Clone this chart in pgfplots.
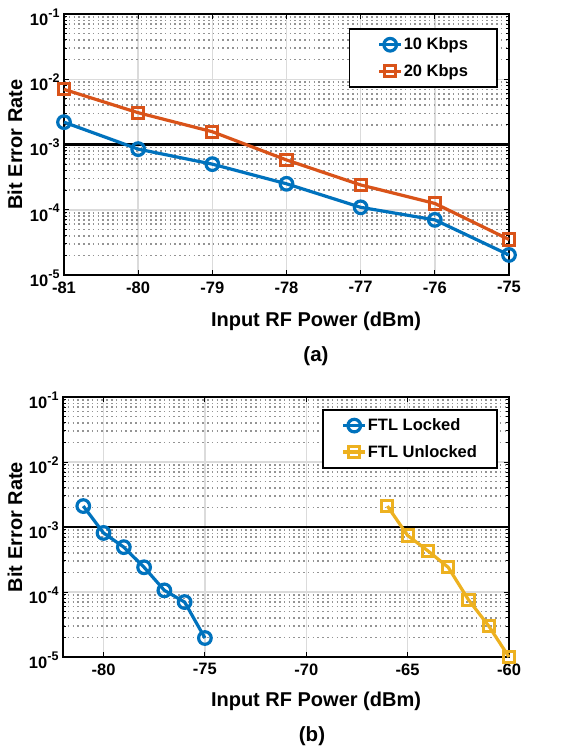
\documentclass[border=0pt]{standalone}
\usepackage{pgfplots}
\pgfplotsset{compat=1.18}
\usepackage{fontspec}
\setmainfont{Liberation Sans}
\definecolor{mblue}{RGB}{0,114,189}
\definecolor{morange}{RGB}{217,83,25}
\definecolor{myellow}{RGB}{237,177,32}
\newcommand{\ep}[1]{10\raisebox{0.5em}{\fontsize{12.5}{13}\selectfont #1}}
\pgfplotsset{
  berstyle/.style={
    scale only axis,
    ymin=1e-5, ymax=1e-1,
    ytick={1e-5,1e-4,1e-3,1e-2,1e-1},
    yticklabels={\ep{-5},\ep{-4},\ep{-3},\ep{-2},\ep{-1}},
    minor ytick={2e-5,3e-5,4e-5,5e-5,6e-5,7e-5,8e-5,9e-5,
                 2e-4,3e-4,4e-4,5e-4,6e-4,7e-4,8e-4,9e-4,
                 2e-3,3e-3,4e-3,5e-3,6e-3,7e-3,8e-3,9e-3,
                 2e-2,3e-2,4e-2,5e-2,6e-2,7e-2,8e-2,9e-2},
    tick label style={font=\bfseries\fontsize{16.5}{18}\selectfont},
    xticklabel style={yshift=-3pt},
    yticklabel style={xshift=-1pt, yshift=-3pt},
    tick align=inside,
    major tick length=5pt,
    minor tick length=3pt,
    every tick/.style={black, line width=1pt},
    axis line style={black, line width=1.6pt},
    xmajorgrids, ymajorgrids, yminorgrids,
    major grid style={line width=1.5pt, color=black!14},
    minor grid style={line width=1.6pt, color=black!42, dash pattern=on 1.5pt off 3.3pt},
    clip=false,
    legend cell align=left,
    legend image code/.code={\draw[mark repeat=2,mark phase=2] plot coordinates {(0pt,0pt) (11pt,0pt) (22pt,0pt)};},
  },
  ser1/.style={mblue, line width=3.2pt, mark=o, mark size=6.3pt, mark options={solid, line width=3.2pt}},
  ser2/.style={morange, line width=3.2pt, mark=square, mark size=5.6pt, mark options={solid, line width=3pt}},
  ser3/.style={myellow, line width=3.2pt, mark=square, mark size=5.6pt, mark options={solid, line width=3pt}},
}
\begin{document}
\begin{tikzpicture}[font=\bfseries]
\useasboundingbox (0pt,0pt) rectangle (576pt,-749pt);
% ---------- (a) ----------
\begin{axis}[ymode=log, berstyle,
  at={(64pt,-275pt)}, anchor=south west,
  width=445pt, height=261pt,
  xmin=-81, xmax=-75,
  xtick={-81,-80,-79,-78,-77,-76,-75},
  xticklabels={-81,-80,-79,-78,-77,-76,-75},
  legend style={at={(axis description cs:0.975,0.946)}, anchor=north east,
    draw=black, line width=1.8pt, fill=white,
    font=\bfseries\fontsize{16.5}{18}\selectfont,
    inner xsep=28pt, inner ysep=8pt, row sep=11pt,
    nodes={inner sep=1pt}},
]
\addplot[black, line width=2.8pt, forget plot] coordinates {(-81,1e-3) (-75,1e-3)};
\addplot[ser1] coordinates {(-81,2.2e-3) (-80,8.5e-4) (-79,5.0e-4) (-78,2.5e-4) (-77,1.09e-4) (-76,7.0e-5) (-75,2.03e-5)};
\addlegendentry{10 Kbps}
\addplot[ser2] coordinates {(-81,7.0e-3) (-80,3.07e-3) (-79,1.57e-3) (-78,5.8e-4) (-77,2.4e-4) (-76,1.25e-4) (-75,3.5e-5)};
\addlegendentry{20 Kbps}
\end{axis}
\node[rotate=90, font=\bfseries\fontsize{20}{22}\selectfont] at (15pt,-144.5pt) {Bit Error Rate};
\node[font=\bfseries\fontsize{20}{22}\selectfont] at (316pt,-321pt) {Input RF Power (dBm)};
\node[font=\bfseries\fontsize{20.5}{22}\selectfont] at (316pt,-356pt) {(a)};
% ---------- (b) ----------
\begin{axis}[ymode=log, berstyle,
  at={(63pt,-657pt)}, anchor=south west,
  width=446pt, height=260pt,
  xmin=-82, xmax=-60,
  xtick={-80,-75,-70,-65,-60},
  xticklabels={-80,-75,-70,-65,-60},
  legend style={at={(axis description cs:0.975,0.954)}, anchor=north east,
    draw=black, line width=1.8pt, fill=white,
    font=\bfseries\fontsize{16.5}{18}\selectfont,
    inner xsep=19pt, inner ysep=8pt, row sep=11pt,
    nodes={inner sep=1pt}},
]
\addplot[black, line width=2.8pt, forget plot] coordinates {(-82,1e-3) (-60,1e-3)};
\addplot[ser1] coordinates {(-81,2.1e-3) (-80,8.1e-4) (-79,4.9e-4) (-78,2.4e-4) (-77,1.06e-4) (-76,7.0e-5) (-75,1.96e-5)};
\addlegendentry{FTL Locked}
\addplot[ser3] coordinates {(-66,2.1e-3) (-65,7.4e-4) (-64,4.3e-4) (-63,2.4e-4) (-62,7.6e-5) (-61,3.0e-5) (-60,1.0e-5)};
\addlegendentry{FTL Unlocked}
\end{axis}
\node[rotate=90, font=\bfseries\fontsize{20}{22}\selectfont] at (15pt,-527pt) {Bit Error Rate};
\node[font=\bfseries\fontsize{20}{22}\selectfont] at (316pt,-701pt) {Input RF Power (dBm)};
\node[font=\bfseries\fontsize{20.5}{22}\selectfont] at (312pt,-736pt) {(b)};
\end{tikzpicture}
\end{document}
